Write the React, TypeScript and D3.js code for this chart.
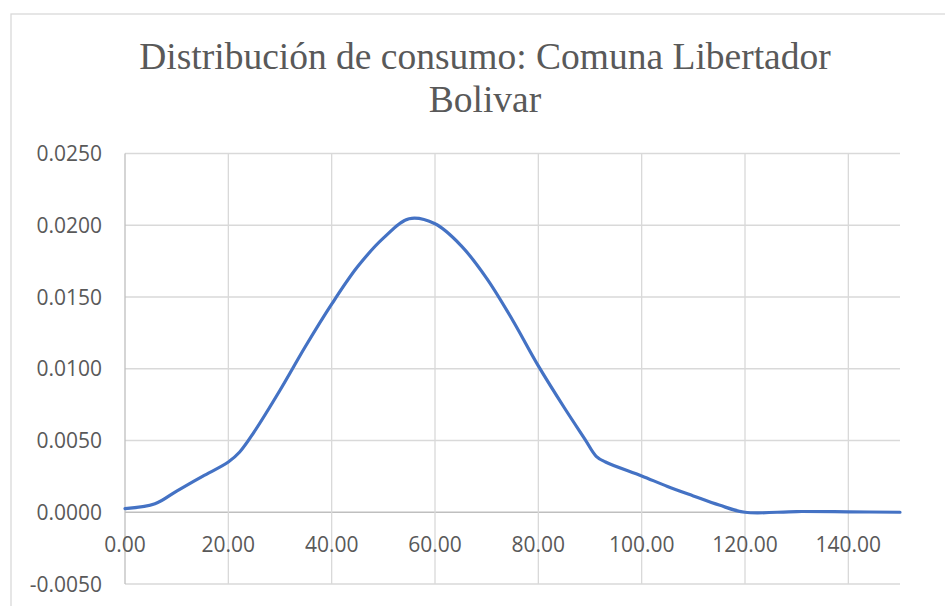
import React from "react";
import * as d3 from "d3";

const xs = [0, 5.8, 10, 15, 20, 22.2, 25, 30, 35, 40, 45, 50, 55, 60, 65, 70, 75, 80, 85, 89, 91.2, 93, 100, 105, 110, 115, 120, 130, 140, 150];
const ys = [0.00025, 0.00059, 0.00148, 0.0025, 0.0035, 0.0042, 0.0056, 0.0085, 0.0116, 0.0145, 0.0171, 0.0191, 0.02045, 0.0201, 0.0186, 0.0163, 0.0134, 0.0102, 0.0073, 0.0051, 0.0039, 0.0035, 0.00253, 0.0018, 0.00114, 0.0005, 0.0, 0.00005, 0.00003, 0.0];
const xTicks = [0, 20, 40, 60, 80, 100, 120, 140];
const yTicks = [-0.005, 0, 0.005, 0.01, 0.015, 0.02, 0.025];
const titleLines = ["Distribución de consumo: Comuna Libertador", "Bolivar"];

export default function App() {
  const W = 945, H = 606;
  const x = d3.scaleLinear().domain([0, 150]).range([125, 900]);
  const y = d3.scaleLinear().domain([-0.005, 0.025]).range([584, 153.5]);
  const pts = xs.map((v, i) => [v, ys[i]] as [number, number]);
  const line = d3.line<[number, number]>().x(d => x(d[0])).y(d => y(d[1])).curve(d3.curveCatmullRom.alpha(0.5));
  const lab = { fontFamily: "'Open Sans', sans-serif", fontSize: 21, fill: "#595959" };
  const fy = (t: number) => d3.format(".4f")(t).replace("\u2212", "-");
  return (
    <svg width={W} height={H} style={{ position: "absolute", left: 0, top: 0, background: "#fff" }}>
      <rect x={11} y={14} width={960} height={620} fill="#fff" stroke="#d9d9d9" strokeWidth={1.3} />
      {titleLines.map((t, i) => (
        <text key={i} x={485} y={68.5 + i * 43} textAnchor="middle" fontFamily="'Liberation Serif', serif" fontSize={37.5} fill="#595959">{t}</text>
      ))}
      {yTicks.map(t => (
        <line key={"gy" + t} x1={125} x2={900} y1={y(t)} y2={y(t)} stroke={t === 0 ? "#bfbfbf" : "#d9d9d9"} strokeWidth={1.3} />
      ))}
      {xTicks.map(t => (
        <line key={"gx" + t} x1={x(t)} x2={x(t)} y1={153.5} y2={584} stroke={t === 0 ? "#bfbfbf" : "#d9d9d9"} strokeWidth={1.3} />
      ))}
      {yTicks.map(t => (
        <text key={"ly" + t} x={102} y={y(t)} dy="0.36em" textAnchor="end" {...lab}>{fy(t)}</text>
      ))}
      {xTicks.map(t => (
        <text key={"lx" + t} x={x(t)} y={552} textAnchor="middle" {...lab}>{d3.format(".2f")(t)}</text>
      ))}
      <path d={line(pts) || ""} fill="none" stroke="#4472C4" strokeWidth={3.2} strokeLinejoin="round" strokeLinecap="round" />
    </svg>
  );
}
